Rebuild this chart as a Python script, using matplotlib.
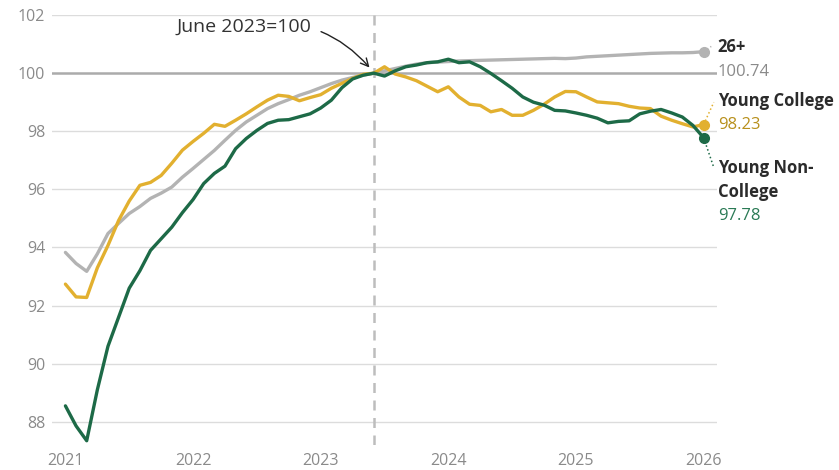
import numpy as np
import matplotlib
matplotlib.use("Agg")
import matplotlib.pyplot as plt

plt.rcParams['font.family'] = ['Open Sans', 'DejaVu Sans']

# monthly index values, Jan 2021 .. Jan 2026 (June 2023 = 100)
young_noncollege = [88.55, 87.86, 87.35, 89.1, 90.6, 91.6, 92.6, 93.2, 93.9, 94.3,
                    94.7, 95.2, 95.65, 96.2, 96.55, 96.8, 97.4, 97.75, 98.03, 98.27,
                    98.38, 98.4, 98.5, 98.6, 98.8, 99.07, 99.5, 99.8, 99.93, 100.0,
                    99.9, 100.08, 100.22, 100.28, 100.36, 100.39, 100.48, 100.36, 100.39, 100.22,
                    99.99, 99.74, 99.48, 99.18, 99.0, 98.9, 98.72, 98.7, 98.63, 98.55,
                    98.45, 98.29, 98.34, 98.36, 98.6, 98.69, 98.75, 98.63, 98.49, 98.2,
                    97.78]
young_college = [92.74, 92.3, 92.28, 93.3, 94.07, 94.93, 95.6, 96.14, 96.24, 96.48,
                 96.9, 97.35, 97.65, 97.93, 98.24, 98.17, 98.38, 98.6, 98.84, 99.07,
                 99.24, 99.2, 99.05, 99.16, 99.26, 99.48, 99.65, 99.82, 99.96, 100.0,
                 100.22, 99.97, 99.87, 99.74, 99.55, 99.36, 99.53, 99.18, 98.93, 98.89,
                 98.67, 98.75, 98.55, 98.55, 98.72, 98.93, 99.18, 99.37, 99.36, 99.18,
                 99.01, 98.98, 98.95, 98.86, 98.8, 98.78, 98.52, 98.38, 98.26, 98.15,
                 98.23]
age_26plus = [93.83, 93.45, 93.18, 93.78, 94.48, 94.83, 95.17, 95.41, 95.69, 95.87,
              96.08, 96.42, 96.72, 97.03, 97.34, 97.69, 98.03, 98.32, 98.55, 98.78,
              98.95, 99.09, 99.24, 99.36, 99.5, 99.64, 99.76, 99.85, 99.93, 100.0,
              100.08, 100.16, 100.24, 100.31, 100.36, 100.38, 100.4, 100.42, 100.43, 100.44,
              100.45, 100.46, 100.47, 100.48, 100.49, 100.5, 100.51, 100.5, 100.52, 100.56,
              100.58, 100.6, 100.62, 100.64, 100.66, 100.68, 100.69, 100.7, 100.7, 100.71,
              100.74]

years = np.arange(2021, 2027)
yticks = np.arange(88, 103, 2)
t = 2021 + np.arange(len(age_26plus)) / 12
base_date = 2021 + 29 / 12  # June 2023

c_gray = '#b3b3b3'
c_gold = '#e2b02f'
c_green = '#1d6a47'

fig = plt.figure(figsize=(8.39, 4.70), dpi=100)
ax = fig.add_axes([0.062, 0.053, 0.7926, 0.915])

ax.set_xlim(2021 - 0.105, 2026 + 0.105)
ax.set_ylim(87.2, 102)

for y in yticks:
    if y != 100:
        ax.axhline(y, color='#dcdcdc', lw=1.0, zorder=0)
ax.axhline(100, color='#ababab', lw=1.8, zorder=1)
ax.axvline(base_date, color='#bdbdbd', lw=1.8, ls=(0, (4, 3)), zorder=1)

ax.plot(t, age_26plus, color=c_gray, lw=2.4, solid_capstyle='round', zorder=3)
ax.plot(t, young_college, color=c_gold, lw=2.4, solid_capstyle='round', zorder=4)
ax.plot(t, young_noncollege, color=c_green, lw=2.4, solid_capstyle='round', zorder=5)

for s, c in [(age_26plus, c_gray), (young_college, c_gold), (young_noncollege, c_green)]:
    ax.plot(t[-1], s[-1], 'o', color=c, ms=7, zorder=6)

for sp in ax.spines.values():
    sp.set_visible(False)
ax.set_xticks(years)
ax.set_xticklabels([str(y) for y in years])
ax.set_yticks(yticks)
ax.set_yticklabels([str(y) for y in yticks])
ax.tick_params(length=0, labelsize=11.5, labelcolor='#8a8a8a')
ax.tick_params(axis='y', pad=5)
ax.tick_params(axis='x', pad=6)

# annotation for base month
ax.annotate('June 2023=100', xy=(base_date - 0.02, 100.12), xytext=(2022.93, 101.6),
            fontsize=14, color='#333333', ha='right', va='center',
            arrowprops=dict(arrowstyle='->', color='#222222', lw=1,
                            connectionstyle='arc3,rad=-0.3', shrinkA=5, shrinkB=2))

# end labels
xl = 2026 + 0.11
lab = dict(fontsize=12, va='center', ha='left', clip_on=False)
ax.text(xl, 100.9, '26+', fontweight='bold', color='#2b2b2b', **lab)
ax.text(xl, 100.05, '100.74', color='#8a8a8a', **lab)
ax.plot([t[-1], 2026 + 0.06], [age_26plus[-1], 100.92], ls=':', color=c_gray, lw=1.1,
        clip_on=False, zorder=6)

ax.text(xl, 99.03, 'Young College', fontweight='bold', color='#2b2b2b', **lab)
ax.text(xl, 98.2, '98.23', color='#b8901c', **lab)
ax.plot([t[-1], 2026 + 0.08], [young_college[-1], 99.0], ls=':', color=c_gold, lw=1.1,
        clip_on=False, zorder=6)

ax.text(xl, 96.72, 'Young Non-', fontweight='bold', color='#2b2b2b', **lab)
ax.text(xl, 95.9, 'College', fontweight='bold', color='#2b2b2b', **lab)
ax.text(xl, 95.1, '97.78', color='#2a7a55', **lab)
ax.plot([t[-1], 2026 + 0.08], [young_noncollege[-1], 96.75], ls=':', color=c_green, lw=1.1,
        clip_on=False, zorder=6)

fig.savefig('out.png', dpi=100)
